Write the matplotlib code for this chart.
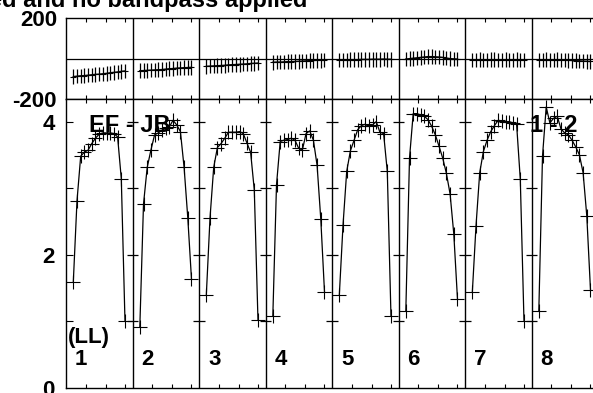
import matplotlib
matplotlib.use("Agg")
import matplotlib.pyplot as plt
import numpy as np

plt.rcParams['font.family'] = ['Liberation Sans', 'DejaVu Sans']
plt.rcParams['font.weight'] = 'bold'

# data: 8 IFs, 15 channels each
if_labels = ['1', '2', '3', '4', '5', '6', '7', '8']
baseline = 'EF - JB'
ant_nums = '1 - 2'
stokes = '(LL)'
title = 'ed and no bandpass applied'

phase = [
    [-89, -87, -85, -84, -82, -80, -78, -77, -75, -73, -70, -68, -66, -63, -61],
    [-60, -59, -58, -57, -56, -55, -54, -52, -50, -49, -47, -46, -45, -44, -43],
    [-38, -37, -36, -35, -34, -33, -31, -30, -29, -28, -27, -26, -24, -23, -22],
    [-18, -17, -17, -16, -15, -15, -14, -13, -12, -11, -10, -9, -8, -8, -7],
    [-7, -6, -6, -5, -5, -5, -4, -4, -4, -3, -3, -3, -2, -3, -3],
    [-2, 0, 2, 4, 6, 8, 10, 10, 9, 8, 6, 3, 0, -1, -2],
    [-6, -6, -5, -6, -6, -5, -5, -6, -6, -5, -6, -6, -5, -6, -6],
    [-6, -6, -5, -6, -6, -5, -6, -7, -8, -9, -10, -11, -12, -13, -14],
]
phase_err = 36

amp = [
    [1.59, 2.81, 3.48, 3.54, 3.57, 3.67, 3.75, 3.81, 3.83, 3.83, 3.83, 3.82, 3.77, 3.14, 1.00],
    [0.91, 2.76, 3.31, 3.57, 3.80, 3.83, 3.87, 3.90, 3.92, 4.02, 3.95, 3.85, 3.31, 2.55, 1.63],
    [1.39, 2.55, 3.31, 3.61, 3.67, 3.75, 3.84, 3.84, 3.84, 3.85, 3.82, 3.68, 3.54, 2.97, 1.01],
    [1.07, 3.05, 3.70, 3.72, 3.73, 3.75, 3.72, 3.60, 3.57, 3.82, 3.86, 3.72, 3.34, 2.53, 1.44],
    [1.39, 2.44, 3.25, 3.56, 3.72, 3.88, 3.94, 3.96, 3.93, 3.95, 4.00, 3.84, 3.82, 3.25, 1.07],
    [1.15, 3.45, 4.12, 4.12, 4.10, 4.08, 4.03, 3.93, 3.80, 3.63, 3.45, 3.22, 2.91, 2.31, 1.33],
    [1.43, 2.43, 3.23, 3.55, 3.72, 3.85, 3.94, 4.02, 4.01, 3.99, 4.00, 3.98, 3.96, 3.13, 1.00],
    [1.15, 3.48, 4.22, 3.98, 4.05, 4.08, 3.89, 3.83, 3.80, 3.72, 3.62, 3.50, 3.23, 2.58, 1.47],
]

n_if = len(amp)
chan_pos = np.linspace(0.11, 0.887, len(amp[0]))
tick_pos = [0.30, 0.594, 0.887]

fig = plt.figure(figsize=(5.93, 3.93), dpi=100)
left = 66 / 593
width = 8 * 66.5 / 593
ax_ph = fig.add_axes([left, 1 - 99 / 393, width, (99 - 18.3) / 393])
ax_am = fig.add_axes([left, 1 - 387.5 / 393, width, (387.5 - 99) / 393])

xt = [i + t for i in range(n_if) for t in tick_pos]

# phase panel
for i in range(n_if):
    x = i + chan_pos
    ax_ph.errorbar(x, phase[i], yerr=phase_err, fmt='-', color='black', lw=1.0,
                   elinewidth=0.9, capsize=0, marker='_', ms=5, mew=0.8)
ax_ph.axhline(0, color='black', lw=0.9)
for i in range(1, n_if):
    ax_ph.axvline(i, color='black', lw=1)
ax_ph.set_xlim(0, n_if)
ax_ph.set_ylim(-200, 200)
ax_ph.set_yticks([-200, 200])
ax_ph.set_yticklabels(['-200', '200'])
ax_ph.set_xticks(xt)
ax_ph.tick_params(axis='x', direction='in', length=3, top=True, bottom=True, labelbottom=False)
ax_ph.tick_params(axis='y', direction='in', length=0, pad=6.5, labelsize=16)

# amplitude panel
for i in range(n_if):
    x = i + chan_pos
    ax_am.plot(x, amp[i], '-', color='black', lw=0.9, marker='+', ms=10, mew=0.8)
for i in range(1, n_if):
    ax_am.axvline(i, color='black', lw=1)
    ax_am.hlines([1, 2, 3, 4], i - 0.09, i + 0.09, color='black', lw=0.9)
ax_am.set_xlim(0, n_if)
ax_am.set_ylim(0, 4.34)
ax_am.set_yticks([1, 2, 3, 4])
ax_am.set_yticklabels(['', '2', '', '4'])
ax_am.set_yticks([0], minor=True)
ax_am.set_yticklabels(['0'], minor=True)
ax_am.set_xticks(xt)
ax_am.tick_params(axis='x', direction='in', length=3, top=True, bottom=True, labelbottom=False)
ax_am.tick_params(axis='y', which='major', direction='in', length=5, pad=8, labelsize=16)
ax_am.tick_params(axis='y', which='minor', direction='in', length=0, pad=8, labelsize=16)

for ax in (ax_ph, ax_am):
    for s in ax.spines.values():
        s.set_linewidth(1)

ax_am.text(0.346, 3.845, baseline, fontsize=17, fontweight='bold', va='baseline')
ax_am.text(6.98, 3.845, ant_nums, fontsize=17, fontweight='bold', va='baseline')
ax_am.text(0.03, 0.67, stokes, fontsize=16, fontweight='bold', va='baseline')
for i, lab in enumerate(if_labels):
    ax_am.text(i + 0.135, 0.34, lab, fontsize=16, fontweight='bold', va='baseline')

fig.text(307 / 593, 1 - 7.5 / 393, title, fontsize=17, fontweight='bold',
         ha='right', va='baseline')

fig.savefig('out.png', dpi=100)
